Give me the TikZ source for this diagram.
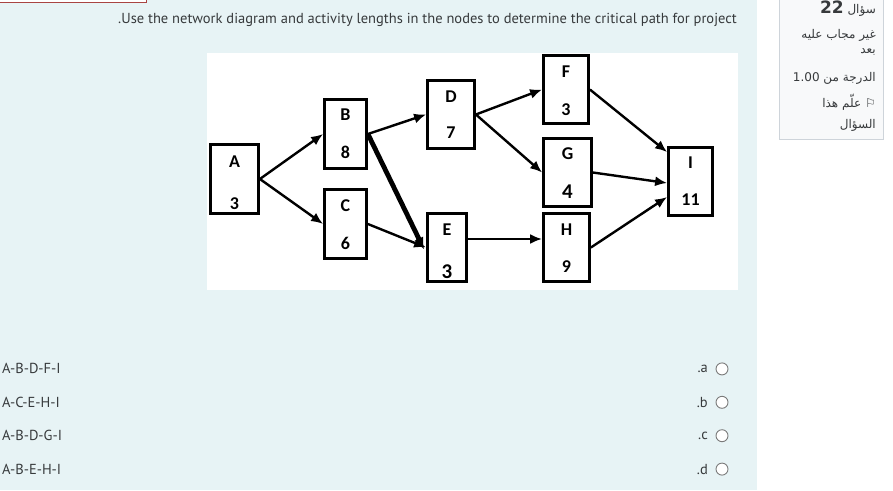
\documentclass[tikz,border=0pt]{standalone}
\usepackage{fontspec}
\setmainfont{PT Sans}
\newfontfamily\boxfont{Carlito}
\newfontfamily\arabicfont[Script=Arabic]{DejaVu Sans}
\TeXXeTstate=1
\usetikzlibrary{arrows.meta}
\tikzset{>={Latex[width=10pt,length=12pt]}}

\definecolor{pagebg}{HTML}{E7F3F5}
\definecolor{textgray}{HTML}{373A3C}
\definecolor{panelbg}{HTML}{F8F9FA}
\definecolor{panelline}{HTML}{CED4DA}
\definecolor{alertred}{HTML}{A94442}
\definecolor{radiogray}{HTML}{7A7A7A}

\tikzset{
  actbox/.style={draw=black, line width=2.8pt, fill=white, inner sep=0pt},
  actlabel/.style={font=\boxfont\bfseries\fontsize{18}{18}\selectfont, inner sep=0pt},
  biglabel/.style={font=\boxfont\bfseries\fontsize{21}{21}\selectfont, inner sep=0pt},
  link/.style={line width=2.4pt, ->},
  uitext/.style={font=\fontsize{14.5}{16}\selectfont, text=textgray, inner sep=0pt},
  artext/.style={font=\arabicfont\fontsize{12}{14}\selectfont, text=textgray, inner sep=0pt, anchor=east},
}

\begin{document}
\begin{tikzpicture}[x=1pt,y=-1pt]

  \useasboundingbox (0,0) rectangle (893,490);
  \fill[pagebg] (0,0) rectangle (757,490);
  \draw[alertred, fill=white, line width=1pt] (-2,-10) rectangle (146,2);

  % question panel
  \draw[panelline, fill=panelbg, line width=0.8pt] (779,-2) rectangle (883,139);
  \node[artext] (qnum) at (876,9) {\beginR سؤال \beginL\textbf{\fontsize{17}{17}\selectfont 22}\endL\endR};
  \node[artext] (status) at (876,35) {\beginR غير مجاب عليه\endR};
  \node[artext] (statusb) at (876,52) {\beginR بعد\endR};
  \node[artext] (grade) at (876,78) {\beginR الدرجة من \beginL1.00\endL\endR};
  \node[artext] (flag) at (876,102) {\beginR ⚐ علّم هذا\endR};
  \node[artext] (flagb) at (876,125) {\beginR السؤال\endR};

  \node[uitext, anchor=east] (question) at (737,20)
    {.Use the network diagram and activity lengths in the nodes to determine the critical path for project};

  % network
  \fill[white] (207,53) rectangle (738,290);

  \node[actbox, minimum width=48, minimum height=69] (A) at (234.5,179) {};
  \node[actbox, minimum width=42, minimum height=69] (B) at (345.5,134) {};
  \node[actbox, minimum width=42, minimum height=69] (C) at (345.5,224) {};
  \node[actbox, minimum width=47, minimum height=68] (D) at (451,114.5) {};
  \node[actbox, minimum width=39, minimum height=68] (E) at (447,247.5) {};
  \node[actbox, minimum width=45, minimum height=68] (F) at (566,89.5) {};
  \node[actbox, minimum width=48, minimum height=68] (G) at (567.5,172.5) {};
  \node[actbox, minimum width=46, minimum height=68] (H) at (566.5,247.5) {};
  \node[actbox, minimum width=44, minimum height=68] (I) at (690.5,181.5) {};

  \node[actlabel] (A-name) at (234.5,162) {A};
  \node[actlabel] (A-len) at (234.5,204) {3};
  \node[actlabel] (B-name) at (345.5,115) {B};
  \node[actlabel] (B-len) at (345.5,152) {8};
  \node[actlabel] (C-name) at (345.5,206) {C};
  \node[actlabel] (C-len) at (345.5,243) {6};
  \node[actlabel] (D-name) at (451,97) {D};
  \node[actlabel] (D-len) at (451,133) {7};
  \node[actlabel] (E-name) at (447,230) {E};
  \node[biglabel] (E-len) at (447,272) {3};
  \node[actlabel] (F-name) at (566,72) {F};
  \node[actlabel] (F-len) at (566,110) {3};
  \node[actlabel] (G-name) at (567.5,154) {G};
  \node[biglabel] (G-len) at (567.5,192) {4};
  \node[actlabel] (H-name) at (566.5,230) {H};
  \node[actlabel] (H-len) at (566.5,267) {9};
  \node[actlabel] (I-name) at (690.5,163) {I};
  \node[actlabel] (I-len) at (690.5,200) {11};

  \draw[link] (A.east) -- (B.west);
  \draw[link] (A.east) -- (C.west);
  \draw[link] (B.east) -- (D.west);
  \draw[link, line width=4.8pt] (B.east) -- ([xshift=-2pt,yshift=-2pt]E.west);
  \draw[link] (C.east) -- (E.west);
  \draw[link] (D.east) -- (F.west);
  \draw[link] (D.east) -- (G.west);
  \draw[link] ([yshift=8.5pt]E.east) -- ([yshift=8.5pt]H.west);
  \draw[link] (F.east) -- ([yshift=-6pt]I.north west);
  \draw[link] (G.east) -- ([yshift=-1.5pt]I.west);
  \draw[link] (H.east) -- ([yshift=-15.5pt]I.west);

  % answers
  \foreach \route/\letter [count=\i] in {A-B-D-F-I/a, A-C-E-H-I/b, A-B-D-G-I/c, A-B-E-H-I/d} {
    \node[uitext, anchor=west] (opt\i) at (2,{335.5+33.4*\i}) {\route};
    \node[uitext, anchor=east] (key\i) at (708,{335.5+33.4*\i}) {.\letter};
    \node[circle, draw=radiogray, fill=white, line width=0.9pt, minimum size=12pt, inner sep=0pt]
      (radio\i) at (722,{335.5+33.4*\i}) {};
  }

\end{tikzpicture}
\end{document}
